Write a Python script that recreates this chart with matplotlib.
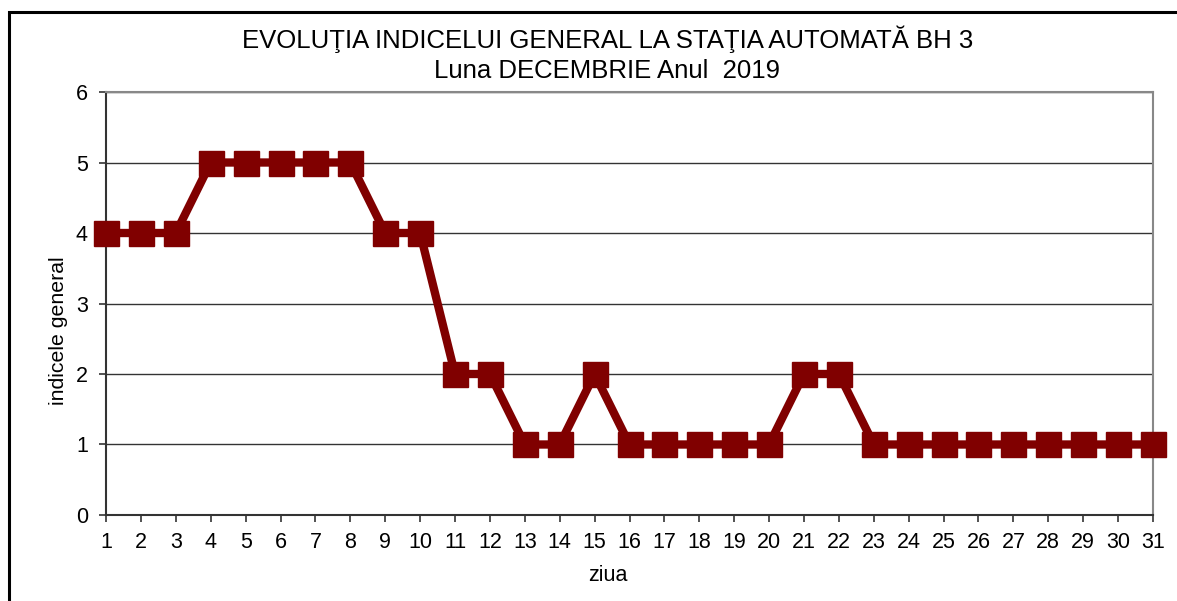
import matplotlib
matplotlib.use("Agg")
import matplotlib.pyplot as plt
from matplotlib.patches import Rectangle

plt.rcParams['font.family'] = ['Liberation Sans', 'DejaVu Sans']

# date
zile = list(range(1, 32))
indice = [4, 4, 4, 5, 5, 5, 5, 5, 4, 4, 2, 2, 1, 1, 2, 1,
          1, 1, 1, 1, 2, 2, 1, 1, 1, 1, 1, 1, 1, 1, 1]
yticks = [0, 1, 2, 3, 4, 5, 6]

fig = plt.figure(figsize=(11.77, 6.01), dpi=100)
ax = fig.add_axes([0.0901, 0.1431, 0.8895, 0.7038])

# chenar exterior (doar stanga si sus se vad)
fig.patches.append(Rectangle((9 / 1177, -0.1), 1.2, 1 - 12 / 601 + 0.1,
                             transform=fig.transFigure, fill=False,
                             edgecolor='black', linewidth=2.2))

ax.plot(zile, indice, color='#800000', linewidth=6, marker='s',
        markersize=18, clip_on=False, zorder=3)

ax.set_xlim(1, 31)
ax.set_ylim(0, 6)
ax.set_xticks(zile)
ax.set_yticks(yticks)
ax.grid(axis='y', color='#333333', linewidth=1)
ax.set_axisbelow(True)

for s in ['top', 'right']:
    ax.spines[s].set_color('#888888')
    ax.spines[s].set_linewidth(1.5)
for s in ['left', 'bottom']:
    ax.spines[s].set_color('#333333')
    ax.spines[s].set_linewidth(1.5)

ax.tick_params(axis='both', labelsize=15.5, length=5, width=1.2,
               color='#333333', direction='out')
ax.tick_params(axis='x', pad=7)
ax.tick_params(axis='y', pad=8)

fig.text(0.516, 0.920, 'EVOLUŢIA INDICELUI GENERAL LA STAŢIA AUTOMATĂ BH 3',
         ha='center', va='baseline', fontsize=18.5)
fig.text(0.516, 0.870, 'Luna DECEMBRIE Anul  2019',
         ha='center', va='baseline', fontsize=18.5)
fig.text(0.050, 0.449, 'indicele general', rotation=90,
         ha='center', va='center', fontsize=15.3)
fig.text(0.516, 0.042, 'ziua', ha='center', va='center', fontsize=15.5)

fig.savefig('out.png', dpi=100)
